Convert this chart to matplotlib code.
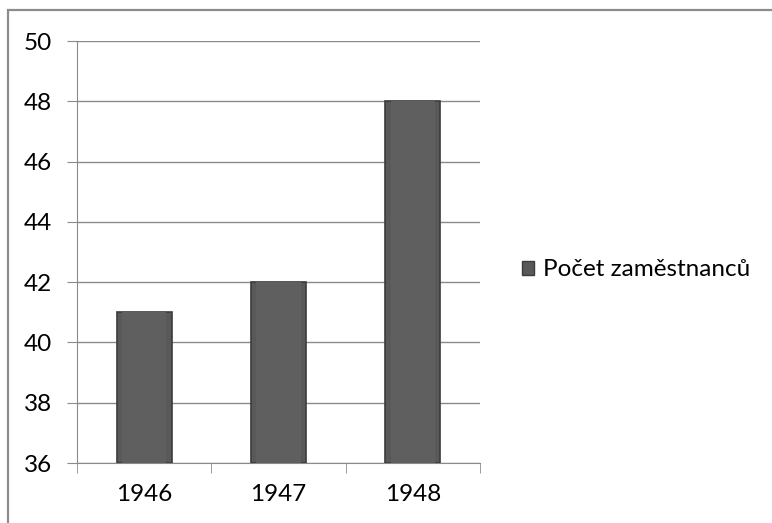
import matplotlib.pyplot as plt
import matplotlib.patches as mpatches
import numpy as np

years = ['1946', '1947', '1948']
employees = [41, 42, 48]
series_name = 'Počet zaměstnanců'

plt.rcParams['font.family'] = ['Lato', 'DejaVu Sans']

fig = plt.figure(figsize=(7.72, 5.23), dpi=100)
# outer chart border (Excel-like)
fig.patches.append(mpatches.Rectangle((8 / 772, -0.1), 1.2, 1 - 10 / 523 + 0.1,
                                      transform=fig.transFigure, fill=False,
                                      edgecolor='#8c8c8c', linewidth=1.6))

ax = fig.add_axes([77 / 772, 1 - 463 / 523, (480 - 77) / 772, (463 - 41) / 523])
x = np.arange(len(years))
base = 36
heights = [v - base for v in employees]
ax.bar(x, heights, bottom=base, width=0.41, color='#595959', edgecolor='#3c3c3c',
       linewidth=1.2, zorder=3, label=series_name)
# bevel highlight on the inside of each bar
ax.bar(x, heights, bottom=base, width=0.33, color='#5f5f5f', edgecolor='none', zorder=4)

ax.set_xlim(-0.5, len(years) - 0.5)
ax.set_ylim(36, 50)
ax.set_yticks(np.arange(36, 51, 2))
ax.set_xticks(x)
ax.set_xticklabels(years)
ax.set_xticks(np.arange(-0.5, len(years), 1), minor=True)

fs = 17.5
ax.yaxis.grid(True, color='#8a8a8a', linewidth=1)
ax.set_axisbelow(True)
for s in ['top', 'right']:
    ax.spines[s].set_visible(False)
ax.spines['left'].set_color('#8a8a8a')
ax.spines['bottom'].set_color('#8a8a8a')
ax.tick_params(axis='y', length=7, color='#8a8a8a', labelsize=fs, pad=11)
ax.tick_params(axis='x', which='major', length=0, labelsize=fs, pad=15)
ax.tick_params(axis='x', which='minor', length=7, color='#8a8a8a')

handles = [mpatches.Patch(facecolor='#595959', edgecolor='#3c3c3c', label=series_name)]
fig.legend(handles=handles, loc='center left', bbox_to_anchor=(522 / 772, 1 - 270 / 523),
           frameon=False, fontsize=fs, handlelength=0.5, handleheight=0.5,
           handletextpad=0.35, borderpad=0, borderaxespad=0)

fig.savefig('out.png', dpi=100)
